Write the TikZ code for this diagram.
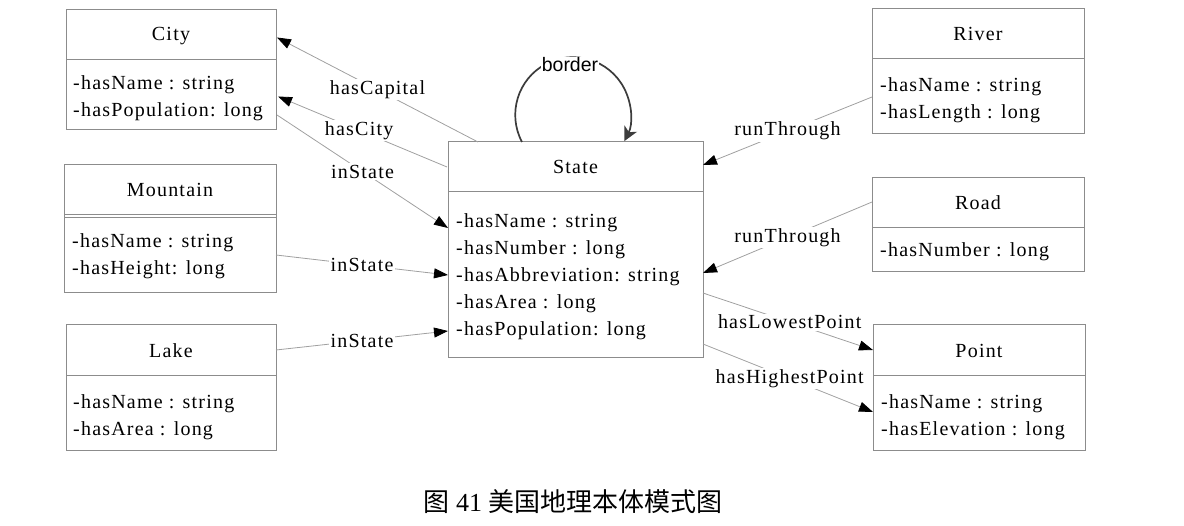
\documentclass[tikz,border=0pt]{standalone}
\usepackage{fontspec}
\setmainfont{Liberation Serif}
\newfontfamily\umlfont[LetterSpace=6]{Liberation Serif}
\newfontfamily\bordfont{Liberation Sans}
\newfontfamily\cjk{Noto Sans CJK SC}
\usetikzlibrary{arrows.meta,calc}
\definecolor{boxgray}{HTML}{8C8C8C}
\definecolor{linegray}{HTML}{A0A0A0}
\definecolor{loopgray}{HTML}{3C3C3C}
\tikzset{
  box/.style={draw=boxgray, line width=1pt, anchor=north west, inner sep=0pt, outer sep=0pt},
  divline/.style={draw=boxgray, line width=1pt},
  ttl/.style={font=\umlfont\fontsize{20}{24}\selectfont, inner sep=0pt},
  attr/.style={font=\umlfont\fontsize{20}{27}\selectfont, align=left, anchor=west, inner sep=0pt},
  conn/.style={draw=linegray, line width=0.8pt, -{Triangle[length=14pt,width=10pt,color=black,fill=black]}},
  lbl/.style={fill=white, inner sep=1.5pt, font=\umlfont\fontsize{20}{24}\selectfont},
  loopline/.style={draw=loopgray, line width=1.7pt, -{Stealth[length=14pt,width=14pt,inset=4pt]}},
}
\begin{document}
\begin{tikzpicture}[x=1pt,y=-1pt]
\useasboundingbox (0,0) rectangle (1184,526);
% City
\node[box, minimum width=210pt, minimum height=120pt] (city) at (66,10) {};
\draw[divline] (66,60) -- (276,60);
\node[ttl] (cityt) at (171,36) {City};
\node[attr] (citya) at (73,98) {-hasName : string\\-hasPopulation: long};
% Mountain
\node[box, minimum width=212pt, minimum height=128pt] (mount) at (64,165) {};
\draw[divline] (64,215) -- (276,215);
\draw[divline] (64,217.5) -- (276,217.5);
\node[ttl] (mountt) at (170,190) {Mountain};
\node[attr] (mounta) at (72,256) {-hasName : string\\-hasHeight: long};
% Lake
\node[box, minimum width=210pt, minimum height=126pt] (lake) at (66,325) {};
\draw[divline] (66,376) -- (276,376);
\node[ttl] (laket) at (171,351) {Lake};
\node[attr] (lakea) at (73,417) {-hasName : string\\-hasArea : long};
% State
\node[box, minimum width=255pt, minimum height=216pt] (state) at (448,142) {};
\draw[divline] (448,192) -- (703,192);
\node[ttl] (statet) at (575.5,167) {State};
\node[attr] (statea) at (456,276.5) {-hasName : string\\-hasNumber : long\\-hasAbbreviation: string\\-hasArea : long\\-hasPopulation: long};
% River
\node[box, minimum width=212pt, minimum height=125pt] (river) at (872,9) {};
\draw[divline] (872,59) -- (1084,59);
\node[ttl] (rivert) at (978,34) {River};
\node[attr] (rivera) at (880,100) {-hasName : string\\-hasLength : long};
% Road
\node[box, minimum width=212pt, minimum height=94pt] (road) at (872,178) {};
\draw[divline] (872,228) -- (1084,228);
\node[ttl] (roadt) at (978,203) {Road};
\node[attr] (roada) at (880,251.5) {-hasNumber : long};
% Point
\node[box, minimum width=212pt, minimum height=126pt] (point) at (873,325) {};
\draw[divline] (873,376) -- (1085,376);
\node[ttl] (pointt) at (979,351) {Point};
\node[attr] (pointa) at (881,417) {-hasName : string\\-hasElevation : long};
% connectors
\draw[conn] ($(state.north west)+(30,0)$) -- node[lbl, pos=0.5] {hasCapital} ($(city.north east)+(1,27.5)$);
\draw[conn] ($(state.north west)+(-1,25)$) -- node[lbl, pos=0.52] {hasCity} ($(city.north east)+(2,86.5)$);
\draw[conn] ($(city.north east)+(1,105)$) -- node[lbl, pos=0.5] {inState} ($(state.north west)+(0,86)$);
\draw[conn] ($(mount.north east)+(0,90)$) -- node[lbl, pos=0.5] {inState} ($(state.north west)+(0,133)$);
\draw[conn] ($(lake.north east)+(0,25)$) -- node[lbl, pos=0.5] {inState} ($(state.north west)+(0,189)$);
\draw[conn] ($(river.north west)+(0,88)$) -- node[lbl, pos=0.5] {runThrough} ($(state.north east)+(0,23)$);
\draw[conn] ($(road.north west)+(0,24)$) -- node[lbl, pos=0.5] {runThrough} ($(state.north east)+(0,131)$);
\draw[conn] ($(state.north east)+(0,151)$) -- node[lbl, pos=0.51] {hasLowestPoint} ($(point.north west)+(0,25)$);
\draw[conn] ($(state.north east)+(0,202)$) -- node[lbl, pos=0.51] {hasHighestPoint} ($(point.north west)+(0,87)$);
% border loop
\coordinate (bstart) at ($(state.north west)+(74,0)$);
\draw[loopline] (bstart) arc[start angle=152, end angle=387, radius=57.7];
\node[fill=white, inner sep=1pt, font=\bordfont\fontsize{19.5}{22}\selectfont] (borderlbl) at (570,65) {border};
% caption
\node[font=\fontsize{26}{30}\selectfont, inner sep=0pt] (caption) at (573,502) {{\cjk 图} 41 {\cjk 美国地理本体模式图}};
\end{tikzpicture}
\end{document}
